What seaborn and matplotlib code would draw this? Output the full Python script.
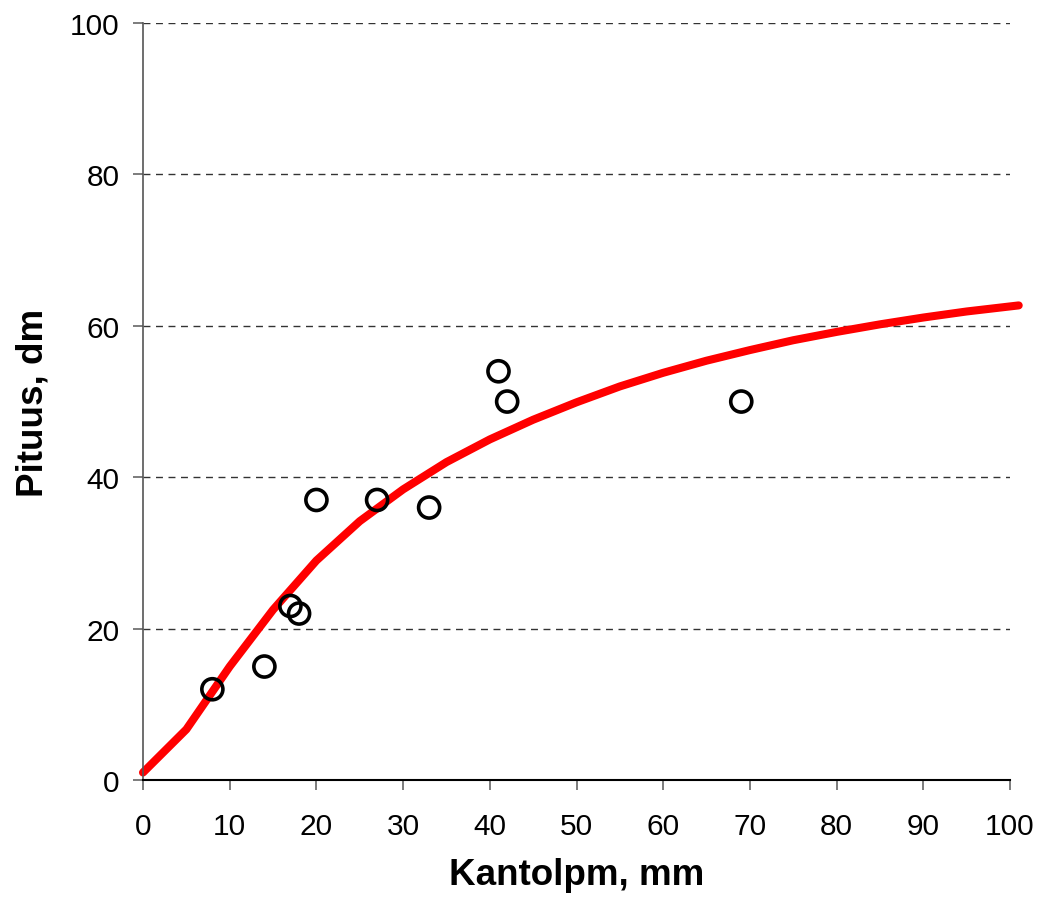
import numpy as np
import pandas as pd
import seaborn as sns
import matplotlib.pyplot as plt

# measured points
kantolpm = [8, 14, 17, 18, 20, 27, 33, 41, 42, 69]
pituus = [12, 15, 23, 22, 37, 37, 36, 54, 50, 50]

# fitted height curve
curve_x = [0, 5, 10, 15, 20, 25, 30, 35, 40, 45, 50, 55, 60, 65, 70, 75, 80, 85, 90, 95, 101]
curve_y = [1.0, 6.7, 15.0, 22.5, 29.0, 34.2, 38.4, 42.0, 45.0, 47.6, 49.9, 52.0, 53.8, 55.4, 56.8, 58.1, 59.2, 60.2, 61.1, 61.9, 62.7]

pts = pd.DataFrame({'x': kantolpm, 'y': pituus})
fit = pd.DataFrame({'x': curve_x, 'y': curve_y})

sns.set_style('white')
plt.rcParams['font.family'] = ['Liberation Sans', 'DejaVu Sans']
plt.rcParams['text.color'] = 'black'
plt.rcParams['axes.labelcolor'] = 'black'
plt.rcParams['xtick.color'] = 'black'
plt.rcParams['ytick.color'] = 'black'

fig = plt.figure(figsize=(10.4, 9.03), dpi=100)
ax = fig.add_axes([0.1375, 0.135, 0.8337, 0.8384])

for g in [20, 40, 60, 80, 100]:
    ax.axhline(g, color='#333333', lw=1.0, ls=(0, (5, 4)), zorder=0)

p = sns.lineplot(data=fit, x='x', y='y', color='#ff0000', lw=5.8, ax=ax, clip_on=False, zorder=2)
p.lines[-1].set_solid_capstyle('round')
sns.scatterplot(data=pts, x='x', y='y', marker='o', s=230, facecolor='none',
                edgecolor='black', linewidth=2.6, ax=ax, zorder=3)

ax.set_xlim(0, 100)
ax.set_ylim(0, 100)
ax.set_xticks(range(0, 101, 10))
ax.set_yticks(range(0, 101, 20))
ax.spines['top'].set_visible(False)
ax.spines['right'].set_visible(False)
ax.spines['left'].set_color('#555555')
ax.spines['bottom'].set_color('black')
ax.spines['left'].set_linewidth(1.2)
ax.spines['bottom'].set_linewidth(1.5)
ax.tick_params(axis='x', direction='out', length=7, width=1.2, color='#666666', pad=16, labelsize=21.5, labelcolor='black', bottom=True)
ax.tick_params(axis='y', direction='out', length=7, width=1.2, color='#666666', pad=10, labelsize=21.5, labelcolor='black', left=True)

ax.set_xlabel('Kantolpm, mm', fontsize=26.5, fontweight='bold', labelpad=12)
ax.set_ylabel('Pituus, dm', fontsize=26.5, fontweight='bold', labelpad=14)

fig.savefig('out.png', dpi=100)
